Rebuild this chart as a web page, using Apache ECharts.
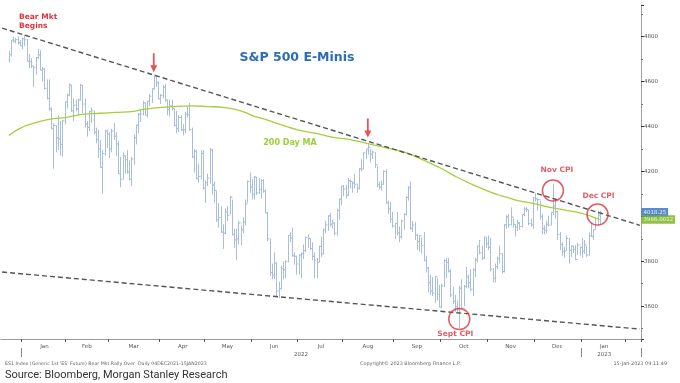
<!DOCTYPE html>
<html><head><meta charset="utf-8">
<script src="https://cdn.jsdelivr.net/npm/echarts@6/dist/echarts.min.js"></script>
<style>html,body{margin:0;padding:0;background:#fff;}#c{width:680px;height:383px;}</style>
</head><body><div id="c"></div>
<script>
// ---- axis calendar (trading days) ----
const axisStart = '2021-12-20', axisEnd = '2023-02-09';
const holidays = ['2021-12-24','2022-01-17','2022-02-21','2022-04-15','2022-05-30','2022-06-20','2022-07-04','2022-09-05','2022-11-24','2022-12-26','2023-01-02','2023-01-16'];
const monthNames = ['Jan','Feb','Mar','Apr','May','Jun','Jul','Aug','Sep','Oct','Nov','Dec'];
const firstLabelMonth = '2022-01', lastLabelMonth = '2023-01';

// ---- ES1 daily bars, consecutive trading days from dataStart ----
const dataStart = '2021-12-23';
const firstOpen = 4697;
const highs = [
 4735,4785,4800,4795,4802,4785,
 4795,4808,4790,4724,4705,4670,4710,4745,4740,4665,4660,4610,4610,4485,4415,4405,4450,4425,4430,4512,
 4545,4592,4586,4525,4520,4525,4590,4585,4525,4425,4470,4485,4470,4395,4385,4340,4295,4385,4385,
 4375,4390,4415,4375,4335,4265,4285,4270,4295,4250,4265,4365,4410,4460,4475,4515,4505,4515,4545,4570,4631,4625,4600,
 4545,4585,4590,4520,4520,4518,4480,4470,4450,4450,4410,4465,4490,4505,4395,4300,4295,4235,4295,4295,
 4160,4190,4305,4300,4155,4115,4060,4045,3965,4035,4045,4090,4075,3945,3945,3980,3960,3995,4075,4160,4195,
 4165,4180,4175,4170,4165,4165,4120,4020,3900,3790,3840,3795,3710,3780,3800,3805,3915,3930,3950,3840,3825,
 3830,3840,3875,3910,3920,3900,3885,3840,3815,3870,3910,3945,3980,4005,4015,3985,3975,4035,4080,4135,
 4140,4140,4170,4165,4155,4190,4145,4215,4255,4285,4300,4327,4300,4295,4285,4225,4155,4160,4205,4210,4070,4065,4020,
 3970,4020,3955,3985,4015,4090,4135,4155,3980,3975,3920,3915,3905,3930,3825,3775,3740,3730,3735,3725,3695,
 3700,3810,3815,3815,3765,3685,3650,3625,3690,3720,3695,3775,3740,3765,3770,3815,3870,3895,3870,3910,3905,
 3915,3905,3770,3790,3820,3870,3835,3965,4005,4010,4040,3990,3965,3985,3975,4010,4040,4040,4030,3990,4085,
 4105,4080,4070,4010,3960,3980,4003,4020,4145,4080,4025,3930,3885,3865,3915,3902,3870,3870,3872,3882,3865,
 3905,3895,3868,3928,3972,3942,3990,4025,4025
];
const lows = [
 4685,4712,4774,4770,4765,4758,
 4745,4758,4690,4660,4660,4575,4630,4700,4650,4600,4565,4520,4470,4390,4212,4285,4295,4270,4265,4410,
 4480,4535,4465,4425,4468,4450,4515,4460,4395,4355,4380,4415,4365,4325,4260,4215,4101,4270,4305,
 4260,4285,4340,4268,4188,4130,4165,4190,4190,4160,4135,4230,4320,4370,4420,4450,4450,4440,4490,4505,4565,4575,4520,
 4500,4525,4510,4450,4445,4470,4400,4370,4375,4380,4360,4370,4440,4380,4260,4195,4165,4150,4165,4120,
 4060,4135,4145,4095,4060,3975,3950,3925,3855,3920,3980,4010,3915,3860,3805,3875,3870,3925,3960,4060,4105,
 4075,4075,4095,4100,4080,4105,4015,3890,3735,3720,3720,3640,3635,3675,3720,3725,3795,3885,3820,3785,3740,
 3740,3725,3810,3840,3860,3850,3805,3725,3725,3795,3820,3830,3925,3935,3955,3945,3915,3915,3985,4050,
 4090,4080,4090,4125,4105,4125,4105,4120,4200,4210,4255,4275,4240,4255,4215,4130,4120,4115,4140,4055,4010,3970,3950,
 3900,3915,3885,3900,3940,4005,4070,3940,3930,3895,3850,3845,3835,3800,3750,3662,3650,3645,3615,3625,3595,
 3590,3685,3725,3750,3640,3610,3575,3575,3502,3590,3600,3680,3680,3665,3645,3730,3795,3830,3805,3810,3860,
 3850,3755,3705,3705,3765,3790,3745,3750,3945,3950,3960,3950,3910,3935,3940,3950,4000,4020,3960,3955,3945,
 4065,4025,3985,3920,3920,3925,3955,3960,4005,3990,3895,3850,3825,3815,3850,3790,3820,3837,3805,3828,3825,
 3815,3833,3820,3825,3908,3895,3940,3960,3965
];
const closes = [
 4720,4785,4780,4787,4772,4760,
 4791,4786,4690,4689,4670,4662,4707,4719,4650,4655,4570,4525,4478,4390,4405,4350,4345,4320,4425,4510,
 4540,4585,4470,4495,4478,4518,4583,4500,4412,4396,4466,4470,4375,4342,4300,4218,4280,4380,4366,
 4300,4380,4357,4322,4190,4165,4270,4252,4198,4165,4256,4350,4405,4455,4455,4505,4450,4513,4535,4568,4623,4595,4523,
 4538,4575,4518,4475,4493,4480,4405,4390,4440,4385,4385,4455,4452,4387,4265,4290,4170,4178,4280,4125,
 4150,4170,4295,4140,4115,3985,3995,3930,3925,4020,4005,4085,3920,3895,3900,3970,3940,3975,4055,4155,4130,
 4098,4175,4105,4120,4160,4113,4015,3900,3750,3737,3792,3668,3678,3768,3762,3798,3915,3903,3825,3822,3788,
 3828,3834,3848,3905,3902,3857,3822,3805,3795,3866,3834,3940,3962,4002,3965,3970,3925,4026,4076,4134,
 4122,4095,4158,4155,4148,4143,4125,4212,4210,4283,4300,4308,4277,4286,4230,4140,4130,4143,4200,4060,4033,3988,3957,
 3968,3926,3910,3980,4008,4084,4127,3947,3961,3916,3888,3914,3870,3803,3771,3705,3667,3659,3731,3652,3597,
 3690,3803,3795,3756,3650,3622,3598,3587,3680,3592,3688,3730,3705,3675,3762,3806,3867,3838,3815,3907,3878,
 3862,3765,3725,3776,3812,3834,3754,3962,3998,3963,3997,3964,3952,3970,3955,4008,4032,4030,3968,3962,4083,
 4078,4075,4000,3945,3938,3965,3961,4017,4046,4021,3920,3875,3843,3847,3902,3848,3868,3853,3808,3873,3861,
 3845,3873,3828,3915,3911,3940,3990,4003,4018.25
];

// ---- 200 day moving average ----
const maDates = ['2021-12-23','2021-12-31','2022-01-10','2022-01-20','2022-02-01','2022-02-10','2022-02-23','2022-03-04','2022-03-16','2022-03-21','2022-03-31','2022-04-11','2022-04-22','2022-05-03','2022-05-13','2022-05-24','2022-06-01','2022-06-10','2022-06-22','2022-07-01','2022-07-14','2022-07-25','2022-08-04','2022-08-15','2022-08-25','2022-08-30','2022-09-12','2022-09-21','2022-10-03','2022-10-12','2022-10-24','2022-11-02','2022-11-08','2022-11-14','2022-11-17','2022-11-30','2022-12-09','2022-12-21','2023-01-03','2023-01-13'];
const maValues = [4360,4392,4414,4432,4441,4454,4459,4463,4467,4474,4484,4489,4492,4489,4484,4470,4450,4428,4405,4384,4369,4353,4342,4326,4308,4302,4280,4250,4213,4174,4137,4108,4094,4083,4073,4058,4041,4027,4013,3986.0012];

// ---- trend lines ----
const upperTrend = [['2021-12-20', 4838], ['2023-02-09', 3960]];
const lowerTrend = [['2021-12-20', 3752], ['2023-02-09', 3498]];

// ---- annotations ----
const cpiDates = ['2022-10-13','2022-12-13','2023-01-12'];
const cpiLabels = ['Sept CPI','Nov CPI','Dec CPI'];
const cpiCircleAt = [3543, 4115, 4008];
const arrowDates = ['2022-03-29','2022-08-16'];
const lastPrice = 4018.25, lastMA = 3986.0012;
const lastPriceText = '4018.25', lastMAText = '3986.0012';

// ---- build ----
function fmt(d){ return d.toISOString().slice(0,10); }
const cats = [];
for (let d = new Date(axisStart + 'T00:00:00Z'); fmt(d) <= axisEnd; d.setUTCDate(d.getUTCDate()+1)) {
  const w = d.getUTCDay(), s = fmt(d);
  if (w === 0 || w === 6 || holidays.includes(s)) continue;
  cats.push(s);
}
const startIdx = cats.indexOf(dataStart);
const ohlc = closes.map((c,i) => [startIdx+i, i ? closes[i-1] : firstOpen, c, lows[i], highs[i]]);
const idxOf = d => cats.indexOf(d);

// month / year label positions
const monthFirst = {}, monthLast = {};
cats.forEach((s,i) => { const k = s.slice(0,7); if (!(k in monthFirst)) monthFirst[k] = i; monthLast[k] = i; });
const monthStart = new Set(), monthMid = new Map(), yearStart = new Set(), yearMid = new Map();
Object.keys(monthFirst).forEach(k => {
  if (k < firstLabelMonth) return;
  monthStart.add(monthFirst[k]);
  if (k <= lastLabelMonth) monthMid.set(Math.round((monthFirst[k] + monthLast[k]) / 2), monthNames[+k.slice(5,7)-1]);
});
const y22 = cats.filter(s => s.startsWith('2022'));
yearStart.add(idxOf(y22[0])); yearStart.add(idxOf(cats.find(s => s.startsWith('2023'))));
yearMid.set(Math.round((idxOf(y22[0]) + idxOf(y22[y22.length-1])) / 2), '2022');
yearMid.set(Math.round((monthFirst['2023-01'] + monthLast['2023-01']) / 2), '2023');

const red = '#e0323c';
const lastCat = cats.length - 1;

const chart = echarts.init(document.getElementById('c'), null, {renderer: 'canvas'});
chart.setOption({
  animation: false,
  backgroundColor: '#ffffff',
  grid: {left: 1, right: 39, top: 5, bottom: 44, containLabel: false},
  xAxis: [{
    type: 'category', data: cats, boundaryGap: true,
    axisLine: {show: true, lineStyle: {color: '#9a9a9a', width: 1}},
    axisTick: {show: true, interval: (i) => monthStart.has(i), length: 3, lineStyle: {color: '#555'}},
    axisLabel: {interval: (i) => monthMid.has(i), formatter: (v, i) => monthMid.get(i) || '',
      fontSize: 5.5, color: '#555', margin: 5, fontFamily: 'DejaVu Sans'},
    splitLine: {show: false}
  }, {
    type: 'category', data: cats, boundaryGap: true, position: 'bottom', gridIndex: 0, offset: 9,
    axisLine: {show: false},
    axisTick: {show: true, interval: (i) => yearStart.has(i), length: 9, lineStyle: {color: '#888'}},
    axisLabel: {interval: (i) => yearMid.has(i), formatter: (v, i) => yearMid.get(i) || '',
      fontSize: 5.5, color: '#555', margin: 4, fontFamily: 'DejaVu Sans'},
    splitLine: {show: false}
  }],
  yAxis: {
    type: 'value', position: 'right', min: 3454, max: 4941, splitNumber: 7, scale: true,
    axisLine: {show: true, lineStyle: {color: '#a0a0a0'}},
    axisTick: {show: true, length: 3, lineStyle: {color: '#333'}},
    minorTick: {show: true, splitNumber: 2, length: 2, lineStyle: {color: '#777'}},
    axisLabel: {fontSize: 5.5, color: '#555', margin: 3, showMinLabel: false, showMaxLabel: false,
      fontFamily: 'DejaVu Sans', formatter: (v) => String(Math.round(v))},
    splitLine: {show: false}
  },
  series: [
    {
      type: 'custom', name: 'ES1', data: ohlc, encode: {x: 0, y: [1,2,3,4]}, z: 2,
      renderItem: (p, api) => {
        const i = api.value(0);
        const hi = api.coord([i, api.value(4)]), lo = api.coord([i, api.value(3)]);
        const op = api.coord([i, api.value(1)]), cl = api.coord([i, api.value(2)]);
        const x = Math.round(hi[0]) + 0.5;
        const st = {stroke: '#a8bedb', lineWidth: 1};
        return {type: 'group', children: [
          {type: 'line', shape: {x1: x, y1: hi[1], x2: x, y2: lo[1]}, style: st},
          {type: 'line', shape: {x1: x - 1, y1: op[1], x2: x, y2: op[1]}, style: st},
          {type: 'line', shape: {x1: x, y1: cl[1], x2: x + 1.5, y2: cl[1]}, style: st}
        ]};
      }
    },
    {
      type: 'line', name: '200 Day MA', data: maDates.map((d,i) => [idxOf(d), maValues[i]]),
      smooth: 0.4, symbol: 'none', z: 3, lineStyle: {color: '#a3d03c', width: 1.3}
    },
    {
      type: 'line', data: upperTrend.map(p => [idxOf(p[0]), p[1]]), symbol: 'none', z: 4,
      lineStyle: {color: '#555', width: 1.4, type: [5, 3]}
    },
    {
      type: 'line', data: lowerTrend.map(p => [idxOf(p[0]), p[1]]), symbol: 'none', z: 4,
      lineStyle: {color: '#555', width: 1.4, type: [5, 3]}
    },
    {
      type: 'scatter', z: 6, symbol: 'circle', symbolSize: 21,
      itemStyle: {color: 'rgba(0,0,0,0)', borderColor: red, borderWidth: 1.5},
      data: cpiDates.map((d,i) => ({
        value: [idxOf(d), cpiCircleAt[i]],
        label: {show: true, formatter: cpiLabels[i],
          position: i === 0 ? 'bottom' : 'top',
          distance: i === 0 ? 0 : (i === 1 ? 5 : 3.5),
          offset: i === 0 ? [-4, 0] : (i === 1 ? [4, 0] : [1, 0]),
          color: red, fontWeight: 'bold', fontSize: 7.5, fontFamily: 'DejaVu Sans'}
      }))
    },
    {
      type: 'scatter', z: 6, symbol: 'path://M3,0 L5,0 L5,12 L8,12 L4,19 L0,12 L3,12 Z', symbolKeepAspect: false,
      symbolSize: [7, 19], itemStyle: {color: '#e3262b'},
      data: arrowDates.map((d,i) => {
        const k = idxOf(d) - startIdx;
        return {value: [idxOf(d), highs[k]], symbolOffset: [0, i === 0 ? -12 : -15]};
      })
    },
    {
      type: 'scatter', z: 7, symbolSize: 0,
      data: [
        {value: [lastCat, lastPrice], label: {show: true, formatter: lastPriceText, backgroundColor: '#2f6fbf'}},
        {value: [lastCat, lastMA], label: {show: true, formatter: lastMAText, backgroundColor: '#76b21e'}}
      ],
      label: {position: 'right', distance: 1.5, color: '#fff', fontSize: 5.5, padding: [1.5, 2, 1, 2], fontFamily: 'DejaVu Sans'}
    }
  ],
  graphic: [
    {type: 'text', x: 297, y: 58, style: {text: 'S&P 500 E-Minis', fill: '#2e6db5', font: 'bold 12.5px "DejaVu Sans"', textAlign: 'center', textVerticalAlign: 'middle', align: 'center', verticalAlign: 'middle'}},
    {type: 'text', x: 290, y: 143, style: {text: '200 Day MA', fill: '#9ccf3a', font: 'bold 8px "DejaVu Sans"', textAlign: 'center', textVerticalAlign: 'middle', align: 'center', verticalAlign: 'middle'}},
    {type: 'text', x: 19, y: 12.5, style: {text: 'Bear Mkt\nBegins', fill: red, font: 'bold 7.5px "DejaVu Sans"', lineHeight: 9, textAlign: 'left', textVerticalAlign: 'top', align: 'left', verticalAlign: 'top'}},
    {type: 'text', x: 5, y: 364, style: {text: "ES1 Index (Generic 1st 'ES' Future) Bear Mkt Rally Over  Daily 04DEC2021-15JAN2023", fill: '#666', font: '4.7px "DejaVu Sans"', textVerticalAlign: 'middle', verticalAlign: 'middle'}},
    {type: 'text', x: 360, y: 364, style: {text: 'Copyright\u00a9 2023 Bloomberg Finance L.P.', fill: '#666', font: '4.9px "DejaVu Sans"', textVerticalAlign: 'middle', verticalAlign: 'middle'}},
    {type: 'text', x: 667, y: 364, style: {text: '15-Jan-2023 09:11:49', fill: '#666', font: '4.9px "DejaVu Sans"', textAlign: 'right', align: 'right', textVerticalAlign: 'middle', verticalAlign: 'middle'}},
    {type: 'text', x: 5, y: 375, style: {text: 'Source: Bloomberg, Morgan Stanley Research', fill: '#333', font: '11px Roboto', textVerticalAlign: 'middle', verticalAlign: 'middle'}}
  ]
});
</script>
</body></html>
